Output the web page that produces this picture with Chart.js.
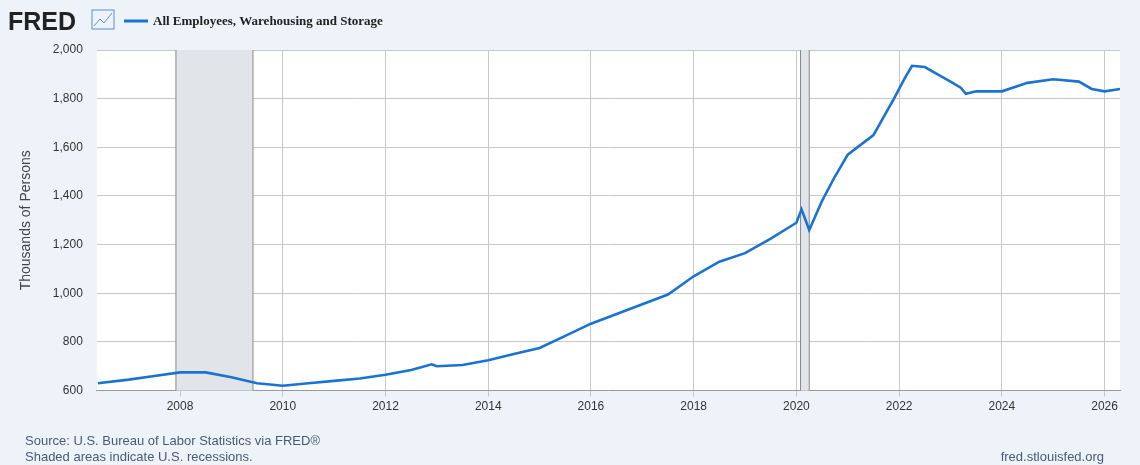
<!DOCTYPE html>
<html><head><meta charset="utf-8">
<script src="https://cdn.jsdelivr.net/npm/chart.js@4"></script>
<style>
html,body{margin:0;padding:0;background:#eef3f9;}
#wrap{position:relative;width:1140px;height:465px;}
</style></head>
<body><div id="wrap"><canvas id="c" width="1140" height="465"></canvas></div>
<script>
/* data (year, thousands of persons) */
const years = [2006.4,2007,2007.5,2008,2008.5,2009,2009.5,2010,2010.5,2011,2011.5,2012,2012.5,2012.9,2013,2013.5,2014,2014.5,2015,2015.5,2016,2016.5,2017,2017.5,2018,2018.5,2019,2019.5,2020,2020.1,2020.25,2020.5,2020.75,2021,2021.5,2021.9,2022.1,2022.25,2022.5,2022.75,2023,2023.2,2023.3,2023.5,2024,2024.5,2025,2025.5,2025.75,2026,2026.3];
const employees = [630,645,660,675,675,655,630,620,630,640,650,665,685,708,700,705,725,750,775,825,875,915,955,995,1070,1130,1165,1225,1290,1345,1260,1380,1480,1570,1650,1800,1880,1935,1930,1900,1870,1845,1820,1830,1830,1865,1880,1870,1840,1830,1840];
const recessions = [[2007.92,2009.42],[2020.08,2020.25]];
const yTicks = [600,800,1000,1200,1400,1600,1800,2000];

/* ── shading + header/footer ─────────────── */
const decor = {
  id: 'decor',
  beforeDatasetsDraw(ch) {
    const {ctx, chartArea: a, scales: {x}} = ch;
    ctx.save();
    recessions.forEach(([s, e]) => {
      const x0 = x.getPixelForValue(s), x1 = x.getPixelForValue(e);
      ctx.fillStyle = '#e1e5ea';
      ctx.fillRect(x0, a.top, x1 - x0, a.bottom - a.top);
      ctx.strokeStyle = '#888'; ctx.lineWidth = 1;
      ctx.beginPath();
      ctx.moveTo(x0, a.top); ctx.lineTo(x0, a.bottom);
      ctx.moveTo(x1, a.top); ctx.lineTo(x1, a.bottom);
      ctx.stroke();
    });
    ctx.restore();
  },
  beforeDraw(ch) {
    const {ctx, chartArea: a} = ch;
    ctx.save();
    ctx.fillStyle = '#fff';
    ctx.fillRect(a.left, a.top, a.right - a.left, a.bottom - a.top);
    ctx.restore();
  },
  afterDraw(ch) {
    const ctx = ch.ctx;
    ctx.save();
    ctx.fillStyle = '#222';
    ctx.font = 'bold 25px "Liberation Sans", Arial';
    ctx.textBaseline = 'alphabetic';
    ctx.fillText('FRED', 8, 30);
    ctx.strokeStyle = '#5a8fd0'; ctx.lineWidth = 1;
    ctx.strokeRect(92, 10, 22, 19);
    ctx.beginPath(); ctx.moveTo(94, 26); ctx.lineTo(100, 19); ctx.lineTo(104, 23); ctx.lineTo(112, 13); ctx.stroke();
    ctx.strokeStyle = '#1a73d0'; ctx.lineWidth = 3;
    ctx.beginPath(); ctx.moveTo(124, 21); ctx.lineTo(148, 21); ctx.stroke();
    ctx.fillStyle = '#222';
    ctx.font = 'bold 13px "Liberation Serif", "Times New Roman"';
    ctx.fillText('All Employees, Warehousing and Storage', 153, 25);
    ctx.fillStyle = '#4a5a72';
    ctx.font = '13px "Liberation Sans", Arial';
    ctx.fillText('Source: U.S. Bureau of Labor Statistics via FRED\u00ae', 25, 445);
    ctx.fillText('Shaded areas indicate U.S. recessions.', 25, 461);
    ctx.textAlign = 'right';
    ctx.fillText('fred.stlouisfed.org', 1104, 461);
    ctx.restore();
  }
};

new Chart(document.getElementById('c'), {
  type: 'line',
  data: { datasets: [{
    data: years.map((y, i) => ({x: y, y: employees[i]})),
    borderColor: '#1a73d0', borderWidth: 2.6, pointRadius: 0, tension: 0, fill: false
  }]},
  options: {
    responsive: false, animation: false,
    layout: { padding: { top: 50, right: 20, bottom: 48, left: 14 } },
    plugins: { legend: { display: false }, tooltip: { enabled: false } },
    scales: {
      x: {
        type: 'linear', min: 2006.38, max: 2026.3,
        afterBuildTicks: s => { s.ticks = [2008,2010,2012,2014,2016,2018,2020,2022,2024,2026].map(v => ({value: v})); },
        ticks: { color: '#333', font: { size: 12, family: '"Liberation Sans", Arial' }, callback: v => String(v), maxRotation: 0 },
        grid: { color: '#c8c8c8', drawTicks: true, tickLength: 6 },
        border: { color: '#999' }
      },
      y: {
        min: 600, max: 2000,
        afterBuildTicks: s => { s.ticks = yTicks.map(v => ({value: v})); },
        ticks: { color: '#333', font: { size: 12, family: '"Liberation Sans", Arial' }, callback: v => v.toLocaleString('en-US'), padding: 14 },
        grid: { color: '#c8c8c8', drawTicks: false },
        border: { display: false },
        title: { display: true, text: 'Thousands of Persons', color: '#444', font: { size: 14, family: '"Liberation Sans", Arial' } }
      }
    }
  },
  plugins: [decor]
});
</script></body></html>
